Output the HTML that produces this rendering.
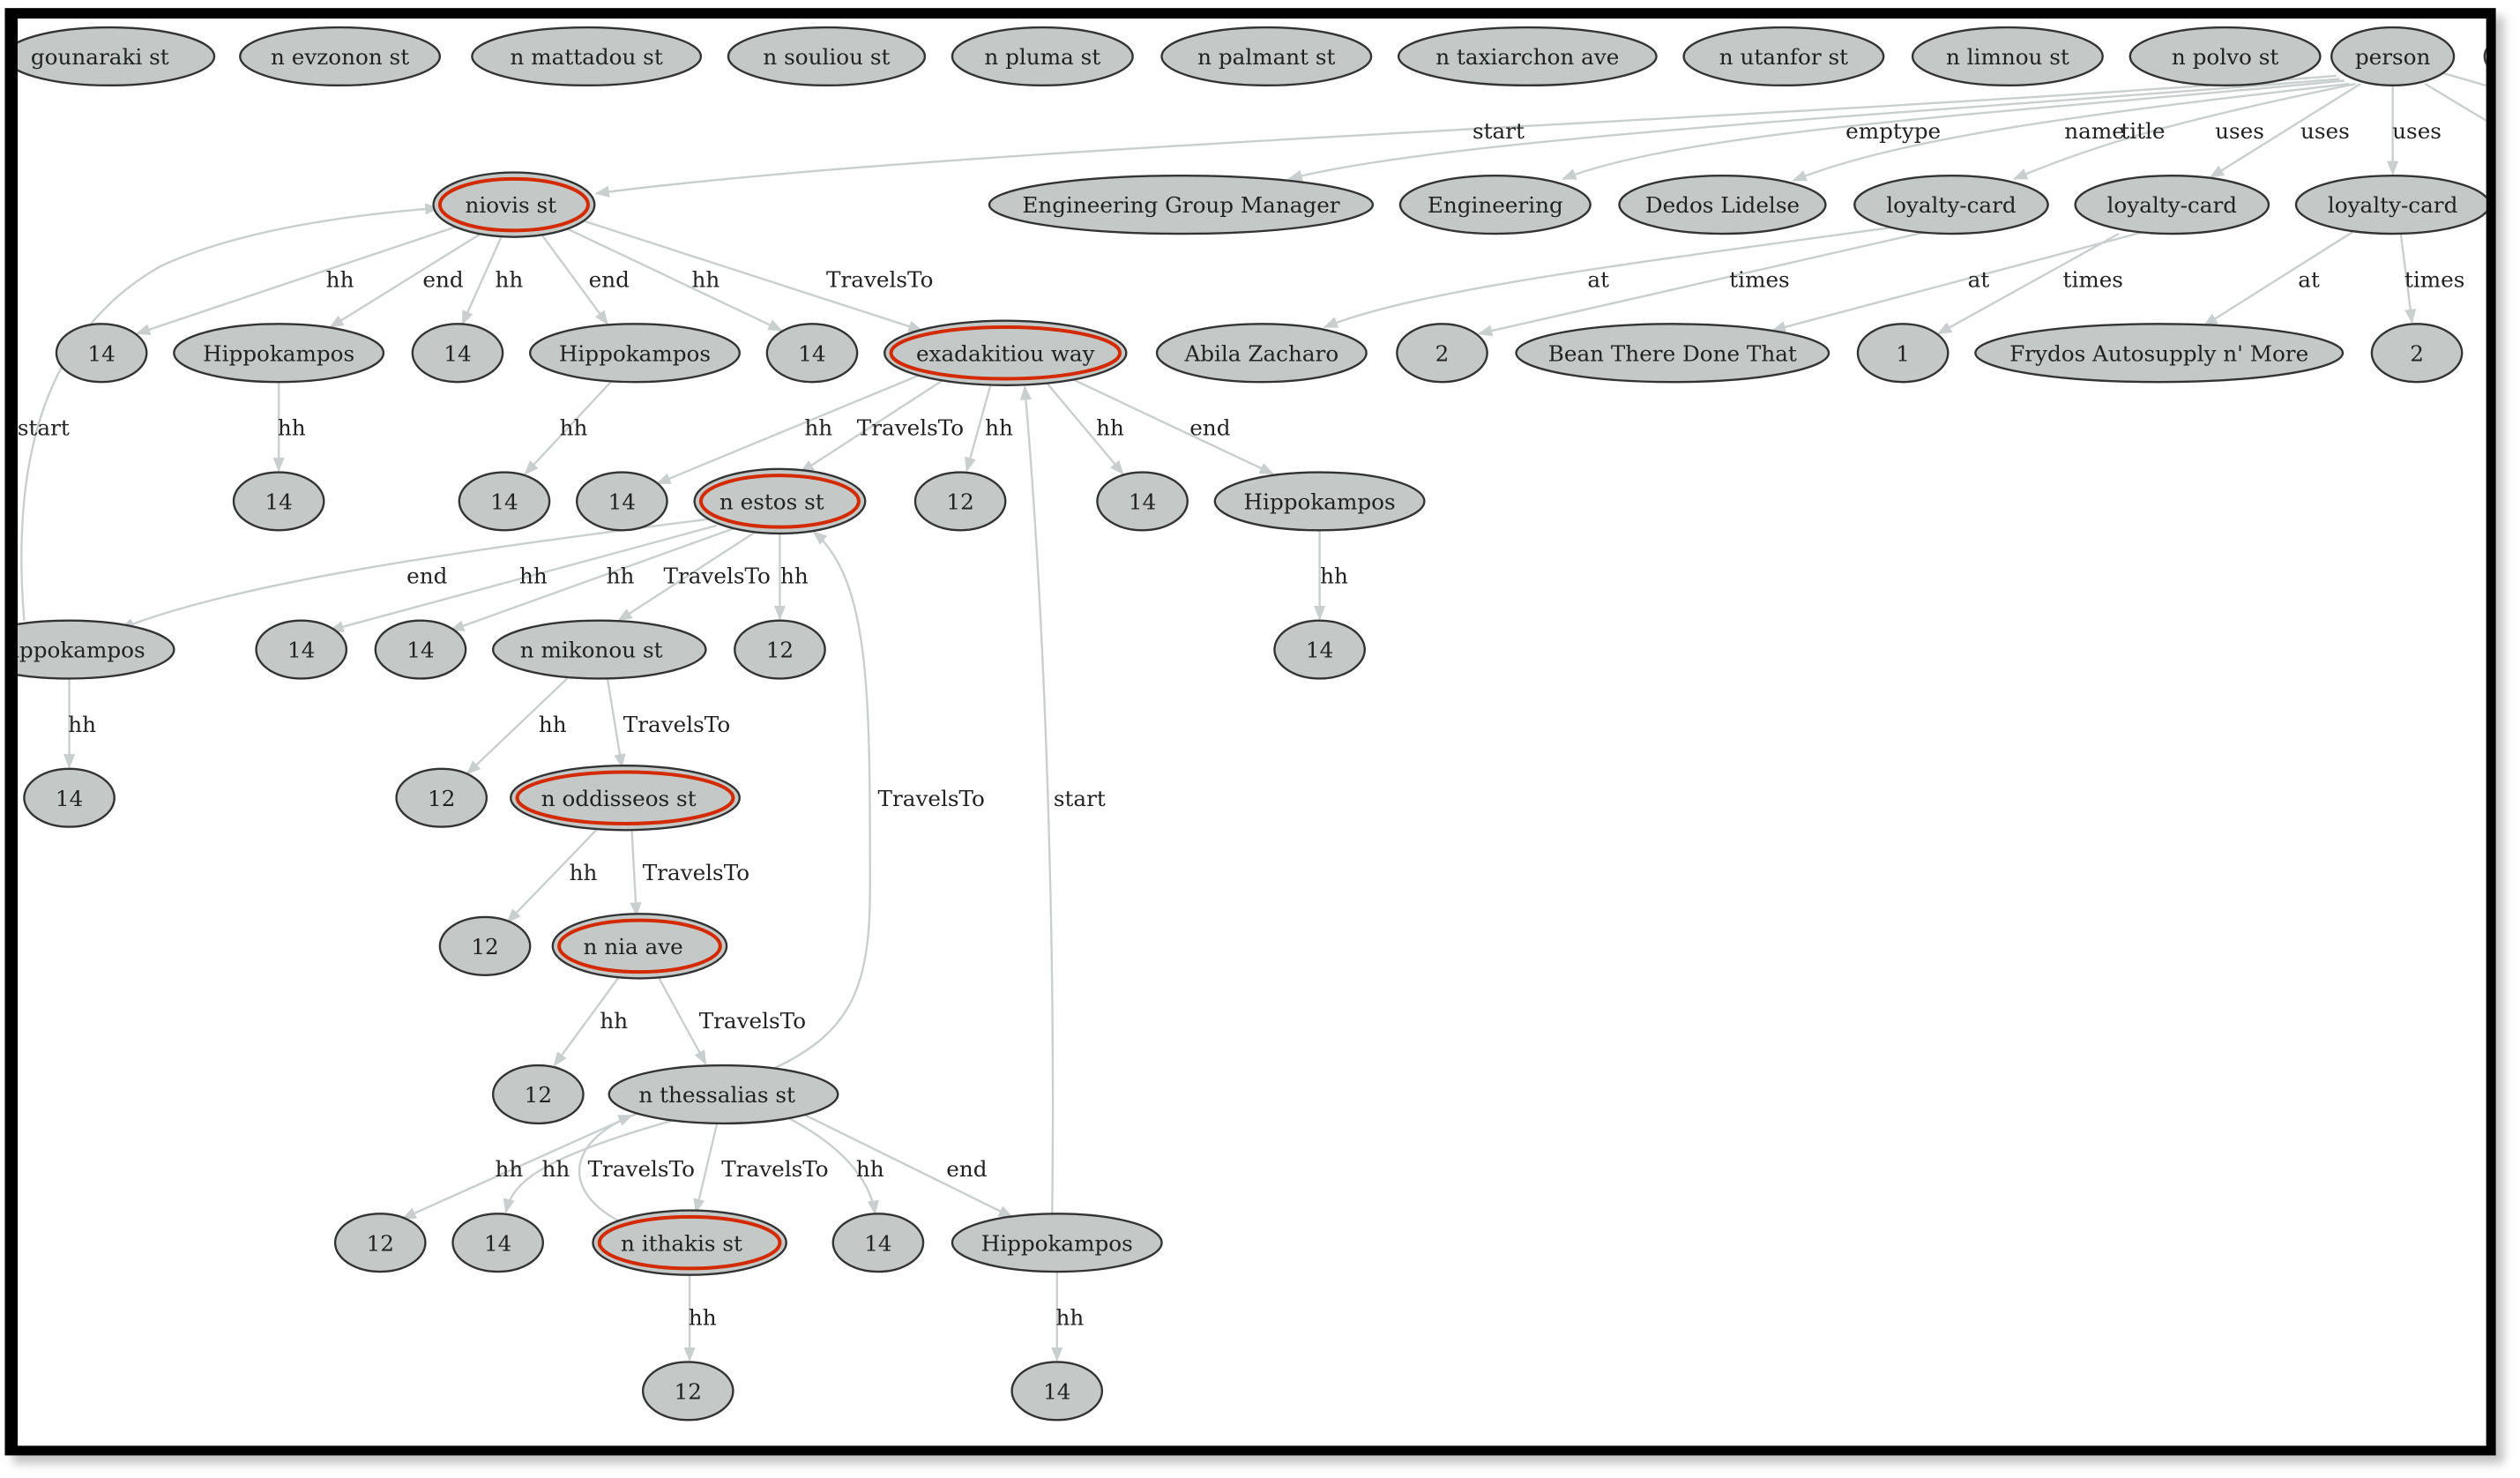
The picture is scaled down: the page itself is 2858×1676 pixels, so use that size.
<!DOCTYPE html>
<html><head><meta charset="utf-8"><style>
html,body{margin:0;padding:0;background:#fff;width:2858px;height:1676px;overflow:hidden}
svg{display:block}
.n ellipse{fill:#c4c9c8;stroke:#333;stroke-width:1.3}
.n ellipse.r{fill:none;stroke:#d42a00;stroke-width:2.2}
text{font-family:"DejaVu Serif","Liberation Serif",serif;font-size:13.5px;fill:#222;text-anchor:middle}
.e path{fill:none;stroke:#c9cece;stroke-width:1.3;marker-end:url(#a)}
</style></head><body>
<svg width="2858" height="1676" viewBox="0 0 1564 917" preserveAspectRatio="none">
<defs>
<marker id="a" viewBox="0 0 10 10" refX="9" refY="5" markerWidth="9" markerHeight="9" markerUnits="userSpaceOnUse" orient="auto"><path d="M0,1 L10,5 L0,9 z" fill="#c9cece"/></marker>
<clipPath id="c"><rect x="11" y="11" width="1532" height="887"/></clipPath>
<filter id="s" x="-5%" y="-5%" width="110%" height="110%"><feGaussianBlur stdDeviation="3"/></filter>
</defs>
<rect x="8" y="10" width="1546" height="898" fill="#999" filter="url(#s)" opacity="0.6"/>
<rect x="3" y="5" width="1546" height="898" fill="#000"/>
<rect x="11" y="11.5" width="1532" height="885.5" fill="#fff"/>
<g clip-path="url(#c)">
<g class="e">
<path d="M285,140 L85,207"/><path d="M300,144 L205,203"/><path d="M312,145 L287,201"/><path d="M335,144 L377,201"/><path d="M350,141 L485,205"/><path d="M362,137 L572,205"/>
<path d="M1450,47 C1100,75 600,90 370,120"/><path d="M1452,49 C1200,70 900,85 800,111"/><path d="M1455,50 C1250,70 1050,80 970,111"/><path d="M1458,52 C1300,70 1180,85 1113,112"/><path d="M1462,52 C1350,75 1300,90 1250,111"/><path d="M1465,52 L1372,110"/><path d="M1485,53 L1485,108"/>
<path d="M1515,45 L1560,58"/><path d="M1505,52 L1560,85"/>
<path d="M1175,141 C1000,165 880,180 822,203"/><path d="M1195,144 L918,207"/><path d="M1330,144 L1100,205"/><path d="M1315,145 L1203,207"/><path d="M1460,144 L1368,202"/><path d="M1490,145 L1497,200"/>
<path d="M173,237 L173,292"/><path d="M380,236 L326,294"/>
<path d="M570,233 L408,300"/><path d="M585,236 L497,293"/><path d="M615,238 L600,292"/><path d="M650,238 L697,294"/><path d="M665,235 L790,294"/>
<path d="M15,385 C8,300 20,210 100,165 C150,142 220,133 272,129"/>
<path d="M819,329 L819,384"/>
<path d="M440,322 C300,340 150,360 75,390"/><path d="M445,326 L205,391"/><path d="M455,328 L280,391"/><path d="M472,328 L384,385"/><path d="M484,330 L484,384"/>
<path d="M352,421 L290,480"/><path d="M377,421 L386,476"/><path d="M43,421 L43,476"/>
<path d="M372,513 L315,572"/><path d="M392,513 L395,568"/>
<path d="M385,605 L344,661"/><path d="M408,605 L438,660"/>
<path d="M395,691 L250,756"/><path d="M418,695 C330,720 318,735 314,752"/><path d="M445,697 L432,752"/><path d="M490,694 C520,710 540,730 543,753"/><path d="M500,692 L628,755"/>
<path d="M480,663 C530,640 540,610 540,550 C540,430 540,360 505,330"/>
<path d="M385,758 C350,740 350,710 392,692"/>
<path d="M428,789 L428,844"/><path d="M656,789 L656,844"/>
<path d="M653,753 C655,600 650,400 636,240"/>
</g>
<g class="lbl">
<text x="211" y="178">hh</text><text x="275" y="178">end</text><text x="316" y="178">hh</text><text x="378" y="178">end</text><text x="438" y="178">hh</text><text x="546" y="178">TravelsTo</text>
<text x="930" y="86">start</text><text x="1175" y="86">emptype</text><text x="1300" y="86">name</text><text x="1330" y="86">title</text><text x="1390" y="86">uses</text><text x="1443" y="86">uses</text><text x="1500" y="86">uses</text>
<text x="992" y="178">at</text><text x="1092" y="178">times</text><text x="1228" y="178">at</text><text x="1299" y="178">times</text><text x="1433" y="178">at</text><text x="1511" y="178">times</text>
<text x="27" y="270">start</text><text x="181" y="270">hh</text><text x="356" y="270">hh</text><text x="508" y="270">hh</text><text x="565" y="270">TravelsTo</text><text x="620" y="270">hh</text><text x="689" y="270">hh</text><text x="751" y="270">end</text>
<text x="265" y="362">end</text><text x="331" y="362">hh</text><text x="385" y="362">hh</text><text x="445" y="362">TravelsTo</text><text x="493" y="362">hh</text><text x="828" y="362">hh</text>
<text x="51" y="454">hh</text><text x="343" y="454">hh</text><text x="420" y="454">TravelsTo</text>
<text x="578" y="500">TravelsTo</text><text x="670" y="500">start</text>
<text x="362" y="546">hh</text><text x="432" y="546">TravelsTo</text>
<text x="381" y="638">hh</text><text x="467" y="638">TravelsTo</text>
<text x="316" y="730">hh</text><text x="345" y="730">hh</text><text x="398" y="730">TravelsTo</text><text x="481" y="730">TravelsTo</text><text x="540" y="730">hh</text><text x="600" y="730">end</text>
<text x="436" y="822">hh</text><text x="664" y="822">hh</text>
</g>
<g class="n">
<ellipse cx="68" cy="35" rx="65" ry="18"/><text x="62" y="40">gounaraki st</text>
<ellipse cx="211" cy="35" rx="62" ry="18"/><text x="211" y="40">n evzonon st</text>
<ellipse cx="364" cy="35" rx="71" ry="18"/><text x="364" y="40">n mattadou st</text>
<ellipse cx="513" cy="35" rx="61" ry="18"/><text x="513" y="40">n souliou st</text>
<ellipse cx="647" cy="35" rx="56" ry="18"/><text x="647" y="40">n pluma st</text>
<ellipse cx="786" cy="35" rx="65" ry="18"/><text x="786" y="40">n palmant st</text>
<ellipse cx="948" cy="35" rx="80" ry="18"/><text x="948" y="40">n taxiarchon ave</text>
<ellipse cx="1107" cy="35" rx="62" ry="18"/><text x="1107" y="40">n utanfor st</text>
<ellipse cx="1246" cy="35" rx="59" ry="18"/><text x="1246" y="40">n limnou st</text>
<ellipse cx="1381" cy="35" rx="59" ry="18"/><text x="1381" y="40">n polvo st</text>
<ellipse cx="1485" cy="35" rx="38" ry="18"/><text x="1485" y="40">person</text>
<ellipse cx="1580" cy="35" rx="38" ry="18"/>

<ellipse cx="319" cy="127" rx="50" ry="20"/><ellipse class="r" cx="319" cy="127" rx="46" ry="16"/><text x="317" y="132">niovis st</text>
<ellipse cx="733" cy="127" rx="119" ry="18"/><text x="733" y="132">Engineering Group Manager</text>
<ellipse cx="928" cy="127" rx="59" ry="18"/><text x="928" y="132">Engineering</text>
<ellipse cx="1069" cy="127" rx="64" ry="18"/><text x="1069" y="132">Dedos Lidelse</text>
<ellipse cx="1211" cy="127" rx="60" ry="18"/><text x="1211" y="132">loyalty-card</text>
<ellipse cx="1348" cy="127" rx="60" ry="18"/><text x="1348" y="132">loyalty-card</text>
<ellipse cx="1485" cy="127" rx="60" ry="18"/><text x="1485" y="132">loyalty-card</text>

<ellipse cx="63" cy="219" rx="28" ry="18"/><text x="63" y="224">14</text>
<ellipse cx="173" cy="219" rx="65" ry="18"/><text x="173" y="224">Hippokampos</text>
<ellipse cx="284" cy="219" rx="28" ry="18"/><text x="284" y="224">14</text>
<ellipse cx="394" cy="219" rx="65" ry="18"/><text x="394" y="224">Hippokampos</text>
<ellipse cx="504" cy="219" rx="28" ry="18"/><text x="504" y="224">14</text>
<ellipse cx="624" cy="219" rx="75" ry="20"/><ellipse class="r" cx="624" cy="219" rx="71" ry="16"/><text x="624" y="224">exadakitiou way</text>
<ellipse cx="783" cy="219" rx="65" ry="18"/><text x="783" y="224">Abila Zacharo</text>
<ellipse cx="895" cy="219" rx="28" ry="18"/><text x="895" y="224">2</text>
<ellipse cx="1038" cy="219" rx="97" ry="18"/><text x="1038" y="224">Bean There Done That</text>
<ellipse cx="1181" cy="219" rx="28" ry="18"/><text x="1181" y="224">1</text>
<ellipse cx="1340" cy="219" rx="114" ry="18"/><text x="1340" y="224">Frydos Autosupply n' More</text>
<ellipse cx="1500" cy="219" rx="28" ry="18"/><text x="1500" y="224">2</text>
<ellipse cx="1575" cy="219" rx="28" ry="18"/>

<ellipse cx="173" cy="311" rx="28" ry="18"/><text x="173" y="316">14</text>
<ellipse cx="313" cy="311" rx="28" ry="18"/><text x="313" y="316">14</text>
<ellipse cx="386" cy="311" rx="28" ry="18"/><text x="386" y="316">14</text>
<ellipse cx="484" cy="311" rx="53" ry="20"/><ellipse class="r" cx="484" cy="311" rx="49" ry="16"/><text x="479" y="316">n estos st</text>
<ellipse cx="596" cy="311" rx="28" ry="18"/><text x="596" y="316">12</text>
<ellipse cx="709" cy="311" rx="28" ry="18"/><text x="709" y="316">14</text>
<ellipse cx="819" cy="311" rx="65" ry="18"/><text x="819" y="316">Hippokampos</text>

<ellipse cx="43" cy="403" rx="65" ry="18"/><text x="43" y="408">Hippokampos</text>
<ellipse cx="187" cy="403" rx="28" ry="18"/><text x="187" y="408">14</text>
<ellipse cx="261" cy="403" rx="28" ry="18"/><text x="261" y="408">14</text>
<ellipse cx="372" cy="403" rx="66" ry="18"/><text x="367" y="408">n mikonou st</text>
<ellipse cx="484" cy="403" rx="28" ry="18"/><text x="484" y="408">12</text>
<ellipse cx="819" cy="403" rx="28" ry="18"/><text x="819" y="408">14</text>

<ellipse cx="43" cy="495" rx="28" ry="18"/><text x="43" y="500">14</text>
<ellipse cx="274" cy="495" rx="28" ry="18"/><text x="274" y="500">12</text>
<ellipse cx="388" cy="495" rx="71" ry="20"/><ellipse class="r" cx="388" cy="495" rx="67" ry="16"/><text x="384" y="500">n oddisseos st</text>

<ellipse cx="301" cy="587" rx="28" ry="18"/><text x="301" y="592">12</text>
<ellipse cx="397" cy="587" rx="54" ry="20"/><ellipse class="r" cx="397" cy="587" rx="50" ry="16"/><text x="393" y="592">n nia ave</text>

<ellipse cx="334" cy="679" rx="28" ry="18"/><text x="334" y="684">12</text>
<ellipse cx="449" cy="679" rx="71" ry="18"/><text x="445" y="684">n thessalias st</text>

<ellipse cx="236" cy="771" rx="28" ry="18"/><text x="236" y="776">12</text>
<ellipse cx="309" cy="771" rx="28" ry="18"/><text x="309" y="776">14</text>
<ellipse cx="428" cy="771" rx="60" ry="20"/><ellipse class="r" cx="428" cy="771" rx="56" ry="16"/><text x="423" y="776">n ithakis st</text>
<ellipse cx="545" cy="771" rx="28" ry="18"/><text x="545" y="776">14</text>
<ellipse cx="656" cy="771" rx="65" ry="18"/><text x="656" y="776">Hippokampos</text>

<ellipse cx="427" cy="863" rx="28" ry="18"/><text x="427" y="868">12</text>
<ellipse cx="656" cy="863" rx="28" ry="18"/><text x="656" y="868">14</text>
</g>
</g>
</svg>
</body></html>
